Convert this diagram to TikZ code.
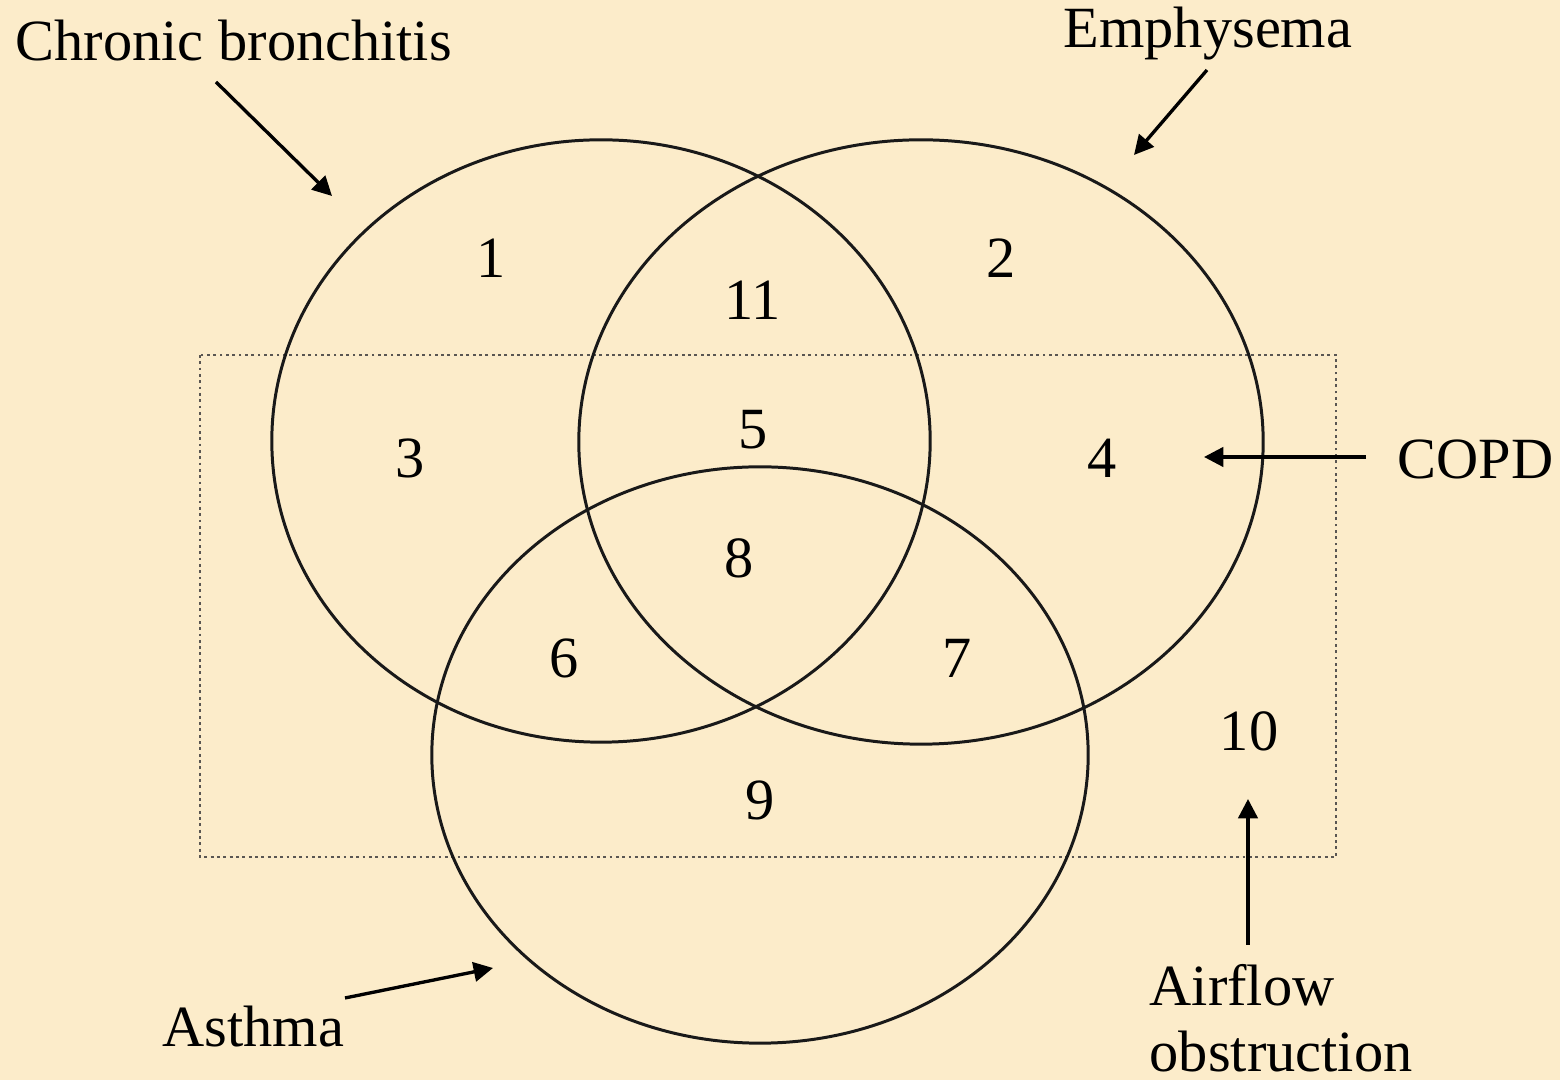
\documentclass[tikz,border=0pt]{standalone}
\usepackage{fontspec}
\setmainfont{Liberation Serif}
\usetikzlibrary{arrows.meta}
\definecolor{paper}{RGB}{252,236,202}
\definecolor{boxline}{RGB}{90,86,82}
\begin{document}
\begin{tikzpicture}[x=0.01cm,y=-0.01cm,
  txt/.style={font=\fontsize{16.6}{19}\selectfont, text=black, inner sep=0pt},
  ring/.style={draw=black!90, line width=0.85pt},
  pointer/.style={draw=black, line width=0.95pt, -{Triangle[length=5.5pt,width=5.5pt]}},
  copdbox/.style={draw=boxline, densely dotted, line width=0.8pt}]

  % page and background
  \useasboundingbox (0,0) rectangle (1560,1080);
  \fill[paper] (0,0) rectangle (1560,1080);

  % airflow obstruction region
  \draw[copdbox] (200,355) rectangle (1336,857);

  % the three disease sets
  \draw[ring] (601,441) ellipse [x radius=3.29cm, y radius=3.01cm];
  \draw[ring] (921,442) ellipse [x radius=3.42cm, y radius=3.02cm];
  \draw[ring] (760,755) ellipse [x radius=3.28cm, y radius=2.88cm];

  % set labels
  \node[txt, anchor=base west] (cb)  at (15,61)    {Chronic bronchitis};
  \node[txt, anchor=base west] (emp) at (1063,48)  {Emphysema};
  \node[txt, anchor=base west] (copd) at (1397,479) {COPD};
  \node[txt, anchor=base west] (ast) at (162,1047) {Asthma};
  \node[txt, anchor=base west] (air) at (1149,1006) {Airflow};
  \node[txt, anchor=base west] (obs) at (1149,1072) {obstruction};

  % region numbers
  \node[txt] (n1)  at (491,258) {1};
  \node[txt] (n2)  at (1001,258) {2};
  \node[txt] (n11) at (753,300) {11};
  \node[txt] (n3)  at (410,458) {3};
  \node[txt] (n5)  at (753,430) {5};
  \node[txt] (n4)  at (1102,458) {4};
  \node[txt] (n8)  at (739,558) {8};
  \node[txt] (n6)  at (564,658) {6};
  \node[txt] (n7)  at (957,658) {7};
  \node[txt] (n10) at (1249,731) {10};
  \node[txt] (n9)  at (760,800) {9};

  % pointer ends
  \coordinate (cb-t)  at (216,82);
  \coordinate (cb-h)  at (332,196);
  \coordinate (emp-t) at (1207,70);
  \coordinate (emp-h) at (1134,155);
  \coordinate (copd-t) at (1366,457);
  \coordinate (copd-h) at (1204,457);
  \coordinate (ast-t) at (345,998);
  \coordinate (ast-h) at (493,968);
  \coordinate (air-t) at (1248,945);
  \coordinate (air-h) at (1248,799);

  \draw[pointer] (cb-t) -- (cb-h);
  \draw[pointer] (emp-t) -- (emp-h);
  \draw[pointer] (copd-t) -- (copd-h);
  \draw[pointer] (ast-t) -- (ast-h);
  \draw[pointer] (air-t) -- (air-h);
\end{tikzpicture}
\end{document}
